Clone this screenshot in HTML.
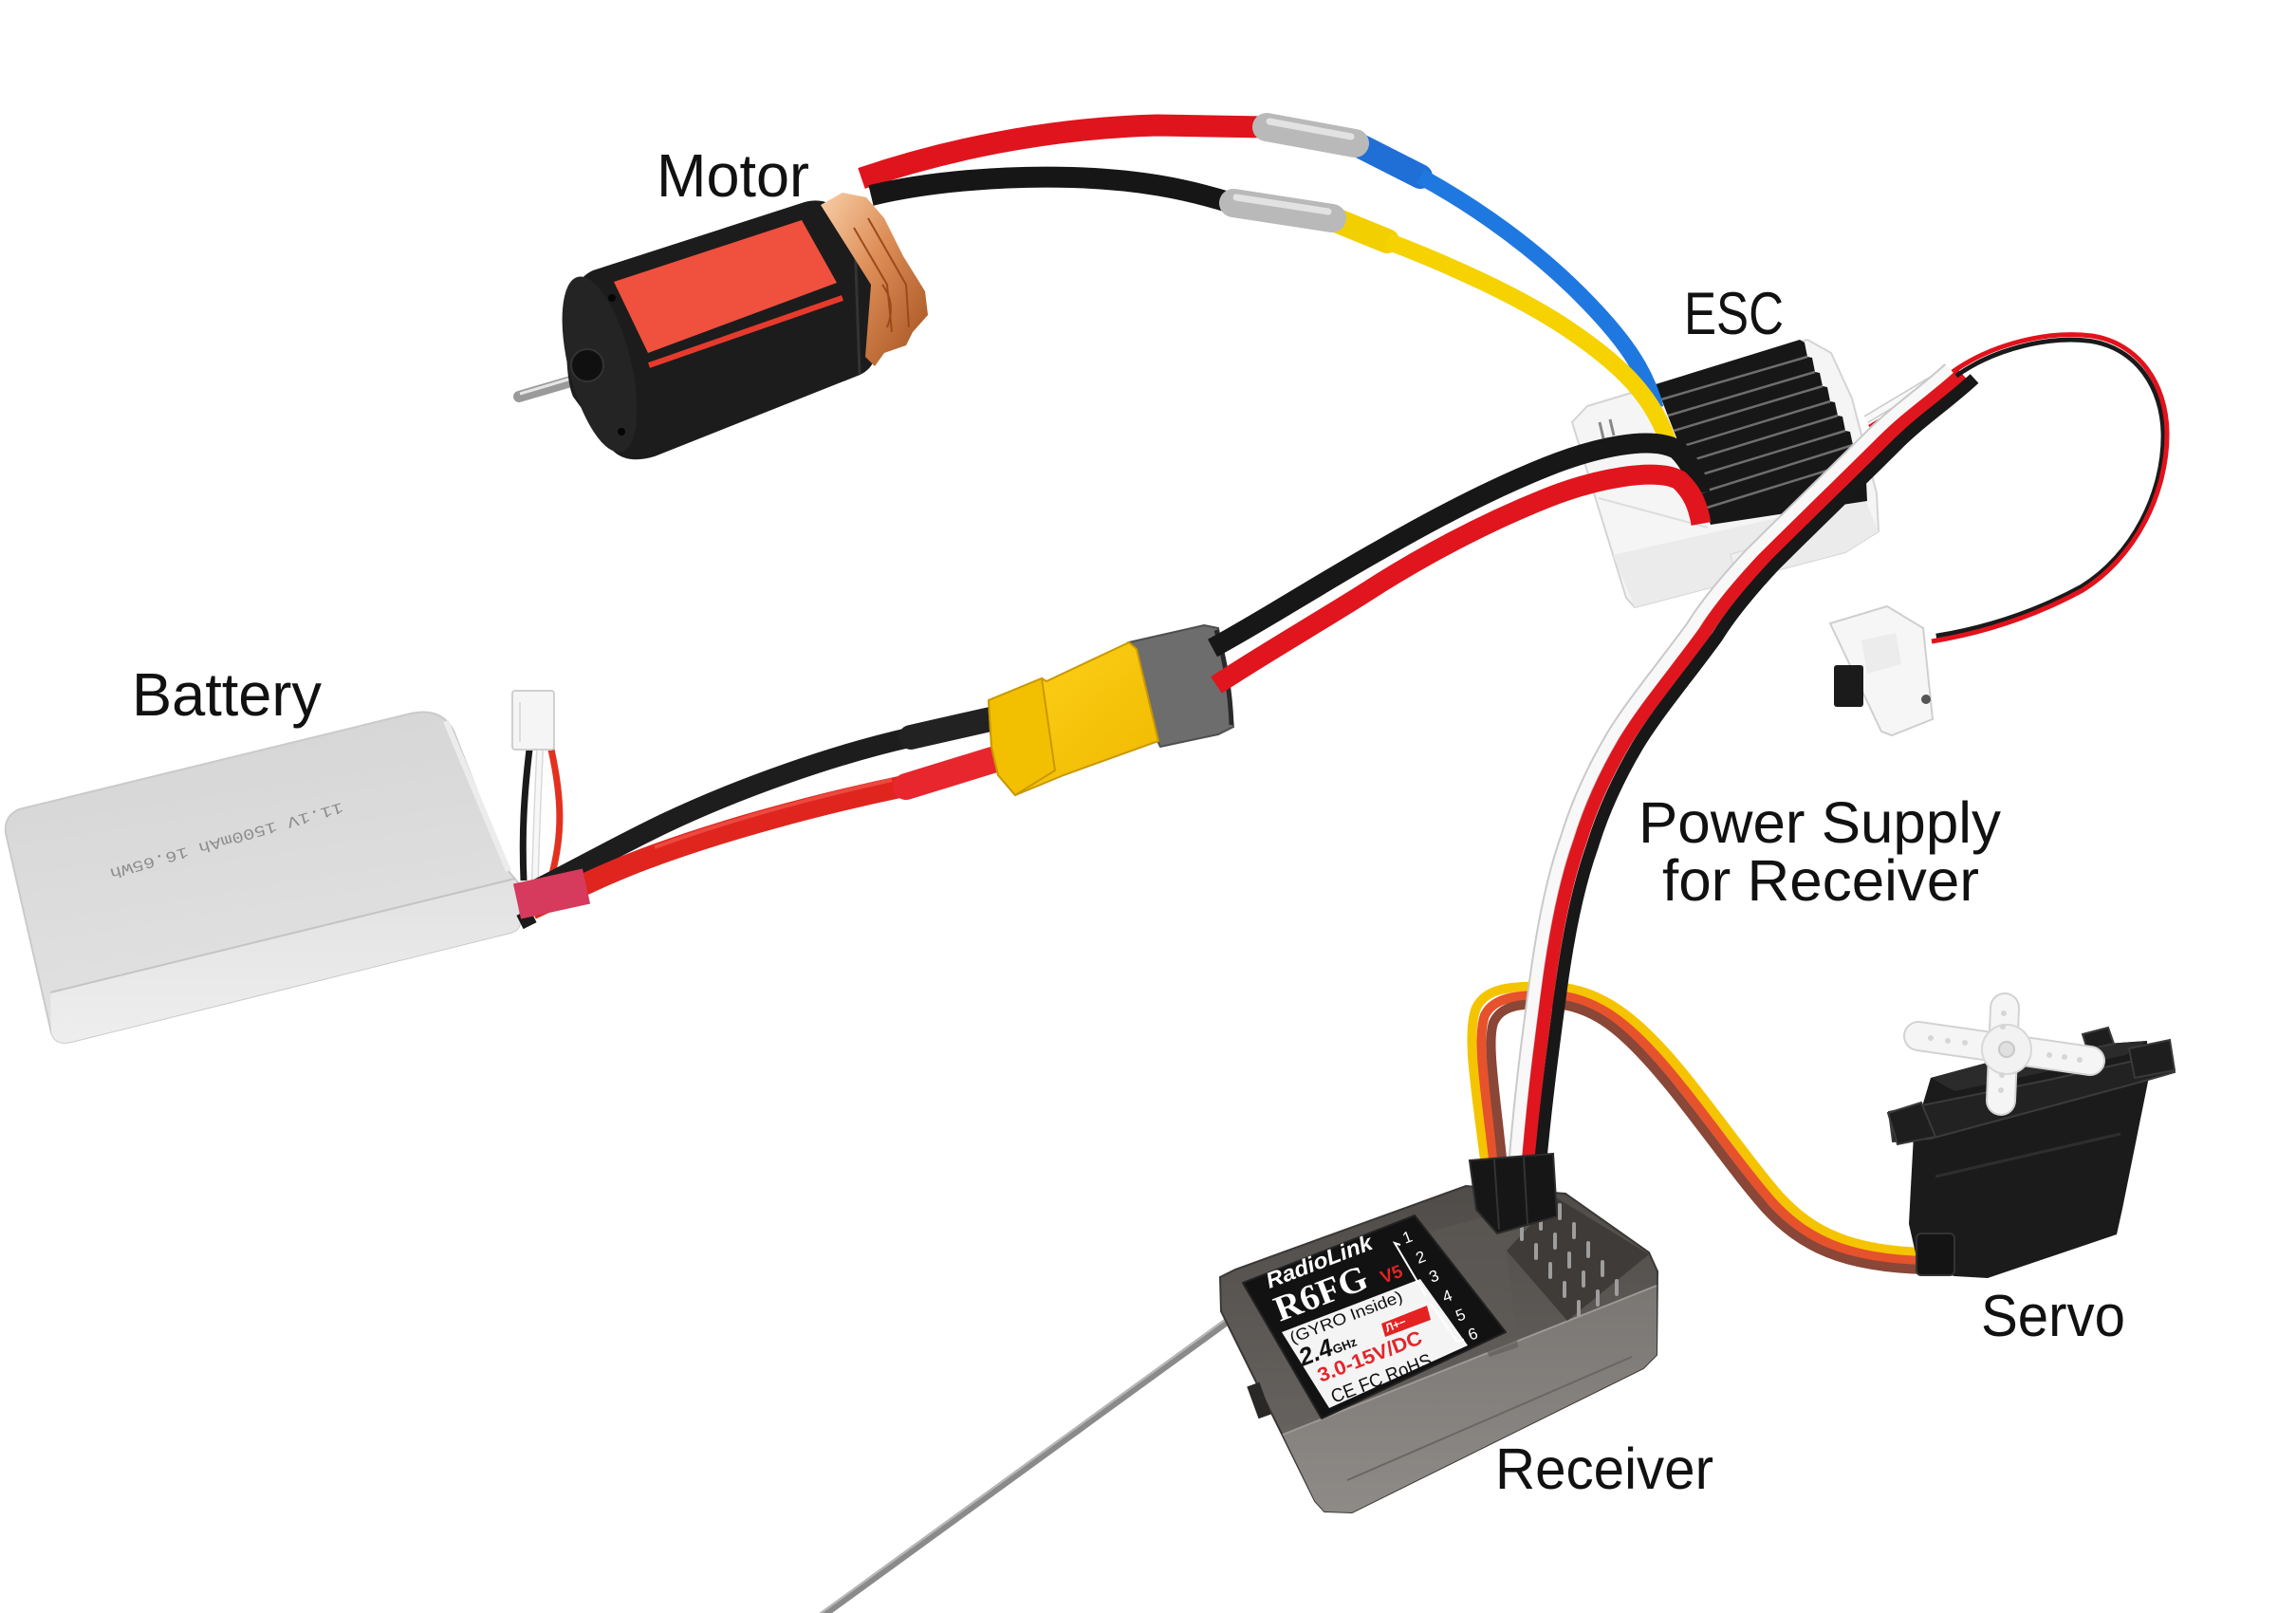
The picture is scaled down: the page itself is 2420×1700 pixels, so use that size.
<!DOCTYPE html>
<html><head><meta charset="utf-8"><style>
html,body{margin:0;padding:0;background:#fff;}
svg{display:block;}
text{font-family:"Liberation Sans",Arial,sans-serif;}
</style></head><body>
<svg width="2420" height="1700" viewBox="0 0 2420 1700" xmlns="http://www.w3.org/2000/svg">
<defs>
<linearGradient id="cop" x1="0" y1="0" x2="1" y2="1"><stop offset="0" stop-color="#f8cfa8"/><stop offset="0.45" stop-color="#dc8c55"/><stop offset="1" stop-color="#a3501e"/></linearGradient>
<linearGradient id="bat" x1="0" y1="0" x2="0.25" y2="1"><stop offset="0" stop-color="#d4d4d4"/><stop offset="1" stop-color="#e2e2e2"/></linearGradient>
<linearGradient id="batf" x1="0" y1="0" x2="0" y2="1"><stop offset="0" stop-color="#e2e2e2"/><stop offset="1" stop-color="#eeeeee"/></linearGradient>
<linearGradient id="rx" x1="0" y1="0" x2="0" y2="1"><stop offset="0" stop-color="#4f4c49"/><stop offset="1" stop-color="#6d6966"/></linearGradient>
<linearGradient id="rxf" x1="0" y1="0" x2="0" y2="1"><stop offset="0" stop-color="#7a7673"/><stop offset="1" stop-color="#8e8a87"/></linearGradient>
<linearGradient id="xt" x1="0" y1="0" x2="1" y2="1"><stop offset="0" stop-color="#ffd21a"/><stop offset="1" stop-color="#efb800"/></linearGradient>
</defs>
<rect width="2420" height="1700" fill="#fff"/>

<!-- Antenna -->
<line x1="1300" y1="1388" x2="862" y2="1706" stroke="#8a8a8a" stroke-width="8" stroke-linecap="round"/>
<line x1="1298" y1="1386" x2="860" y2="1704" stroke="#b8b8b8" stroke-width="2"/>

<!-- Battery -->
<path d="M20,853 L433,752 Q465,745 478,770 L536,918 L546,930 L548,972 Q548,980 538,983 L75,1098 Q58,1102 54,1088 L6,878 Q4,860 20,853 Z" fill="url(#bat)" stroke="#cacaca" stroke-width="2"/>
<path d="M53,1046 L543,926 L548,972 Q548,980 538,983 L75,1098 Q58,1102 54,1088 Z" fill="url(#batf)"/>
<line x1="53" y1="1046" x2="543" y2="926" stroke="#c4c4c4" stroke-width="2"/>
<path d="M470,760 L536,918" stroke="#ececec" stroke-width="6" fill="none"/>
<text transform="translate(360,846) rotate(164)" font-size="16" fill="#8d8d8d" textLength="255" lengthAdjust="spacingAndGlyphs" style="font-family:'Liberation Mono',monospace">11.1V 1500mAh 16.65Wh</text>

<!-- Balance lead -->
<path d="M558,790 C552,840 550,880 552,928" stroke="#1a1a1a" stroke-width="7" fill="none"/>
<path d="M569,790 C567,840 565,880 564,928" stroke="#d9d9d9" stroke-width="8" fill="none"/>
<path d="M569,790 C567,840 565,880 564,928" stroke="#f7f7f7" stroke-width="5" fill="none"/>
<path d="M581,790 C592,840 594,880 580,928" stroke="#e2321f" stroke-width="7" fill="none"/>
<rect x="540" y="728" width="44" height="62" rx="3" fill="#f5f5f5" stroke="#cfcfcf" stroke-width="2"/>
<line x1="548" y1="740" x2="548" y2="782" stroke="#dedede" stroke-width="2"/>

<!-- Battery-side wires -->
<path d="M960,777 C880,795 780,830 700,868 C650,892 610,915 560,940" stroke="#1d1d1d" stroke-width="21" fill="none"/>
<path d="M955,828 C860,848 760,875 680,905 C640,920 610,935 560,958" stroke="#e0251f" stroke-width="23" fill="none"/>
<path d="M940,822 C850,842 760,867 690,893" stroke="#f2584c" stroke-width="4" fill="none" opacity="0.7"/>
<line x1="960" y1="777" x2="1044" y2="758" stroke="#222" stroke-width="26" stroke-linecap="round"/>
<line x1="955" y1="829" x2="1046" y2="801" stroke="#e8262e" stroke-width="28" stroke-linecap="round"/>
<path d="M548,972 L562,965" stroke="#1a1a1a" stroke-width="16"/>
<line x1="545" y1="950" x2="618" y2="934" stroke="#d63a5c" stroke-width="38"/>

<!-- XT60 -->
<path d="M1190,677 L1203,674 L1269,659 L1284,662 L1300,766 L1284,774 L1223,787 L1213,766 L1198,684 Z" fill="#6d6d6d" stroke="#4f4f4f" stroke-width="2"/>
<path d="M1282,664 Q1296,712 1298,764" stroke="#2a2a2a" stroke-width="5" fill="none"/>
<path d="M1042,738 L1098,715 L1103,718 L1190,677 L1198,684 L1221,781 L1121,817 L1070,838 L1052,817 L1045,787 Z" fill="url(#xt)" stroke="#c99800" stroke-width="2"/>
<path d="M1042,738 L1098,715 L1112,812 L1070,838 L1052,817 L1045,787 Z" fill="#f2c000" stroke="#c99800" stroke-width="2"/>

<!-- ESC case -->
<path d="M1673,428 L1713,416 L1905,358 L1930,372 L1952,420 L1978,520 L1980,560 L1945,582 L1723,640 L1714,630 L1657,445 Z" fill="#f5f5f5" stroke="#d4d4d4" stroke-width="2"/>
<path d="M1700,585 L1965,525 L1980,560 L1945,582 L1723,640 Z" fill="#ebebeb"/>
<line x1="1685" y1="525" x2="1800" y2="556" stroke="#dddddd" stroke-width="2"/>
<line x1="1686" y1="445" x2="1690" y2="462" stroke="#888" stroke-width="3"/>
<line x1="1697" y1="442" x2="1701" y2="459" stroke="#888" stroke-width="3"/>
<rect x="1826" y="580" width="28" height="20" fill="#f0f0f0" stroke="#d6d6d6" transform="rotate(-16 1840 590)"/>

<!-- Heatsink -->
<path d="M1745,405 L1897,358 L1902,361 L1905,376 L1910,377 L1913,392 L1918,393 L1921,407 L1926,408 L1929,423 L1934,424 L1937,438 L1942,439 L1945,454 L1950,455 L1953,469 L1958,470 L1961,485 L1966,487 L1968,528 L1803,553 Z" fill="#171717"/>
<g stroke="#6e6e6e" stroke-width="2.5">
<line x1="1751" y1="421" x2="1905" y2="376"/>
<line x1="1758" y1="438" x2="1913" y2="392"/>
<line x1="1764" y1="454" x2="1921" y2="407"/>
<line x1="1771" y1="471" x2="1929" y2="423"/>
<line x1="1777" y1="487" x2="1937" y2="438"/>
<line x1="1784" y1="503" x2="1945" y2="454"/>
<line x1="1790" y1="520" x2="1953" y2="469"/>
<line x1="1796" y1="536" x2="1961" y2="485"/>
</g>

<!-- Motor -->
<line x1="547" y1="418" x2="612" y2="399" stroke="#9a9a9a" stroke-width="12" stroke-linecap="round"/>
<line x1="548" y1="415" x2="612" y2="396" stroke="#e6e6e6" stroke-width="3"/>
<path d="M625,285 L848,213 Q872,207 885,224 L924,296 L924,372 Q920,390 904,396 L690,481 Q660,490 645,474 L604,418 Q596,400 597,345 Q600,296 625,285 Z" fill="#1c1c1c"/>
<ellipse cx="632" cy="384" rx="33" ry="95" transform="rotate(-14 632 384)" fill="#242424"/>
<circle cx="619" cy="385" r="17" fill="#101010" stroke="#333" stroke-width="2"/>
<circle cx="645" cy="314" r="4" fill="#050505"/>
<circle cx="655" cy="455" r="4" fill="#050505"/>
<path d="M647,297 L845,232 L882,298 L683,372 Z" fill="#f0503e"/>
<line x1="684" y1="385" x2="888" y2="314" stroke="#e63a2c" stroke-width="6"/>
<line x1="900" y1="220" x2="906" y2="394" stroke="#333" stroke-width="3"/>
<path d="M865,216 L888,203 L913,208 L932,230 L952,270 L975,307 L978,332 L962,350 L955,364 L932,372 L922,386 L912,376 L918,300 Z" fill="url(#cop)"/>
<g stroke="#9c4a1c" stroke-width="2" fill="none">
<path d="M900,240 L935,300 L940,350"/>
<path d="M915,230 L955,300 L958,345"/>
<path d="M930,300 Q945,320 935,345"/>
</g>

<!-- Motor wires -->
<path d="M908,188 C990,160 1100,135 1220,132 L1335,134" stroke="#e0141d" stroke-width="23" fill="none"/>
<path d="M918,206 C980,191 1060,185 1130,187 C1200,189 1250,199 1298,214" stroke="#161616" stroke-width="22" fill="none"/>
<line x1="1430" y1="152" x2="1497" y2="186" stroke="#1f6fd6" stroke-width="26" stroke-linecap="round"/>
<line x1="1408" y1="232" x2="1462" y2="254" stroke="#f2cf00" stroke-width="26" stroke-linecap="round"/>
<path d="M1497,186 C1560,220 1620,265 1665,310 C1710,355 1735,390 1745,430" stroke="#1f78e0" stroke-width="17" fill="none"/>
<path d="M1462,254 C1530,280 1600,312 1650,345 C1710,385 1745,420 1760,472" stroke="#f6d200" stroke-width="18" fill="none"/>
<line x1="1335" y1="134" x2="1428" y2="151" stroke="#b9b9b9" stroke-width="30" stroke-linecap="round"/>
<line x1="1338" y1="128" x2="1424" y2="144" stroke="#e2e2e2" stroke-width="7" stroke-linecap="round"/>
<line x1="1300" y1="214" x2="1404" y2="230" stroke="#b9b9b9" stroke-width="30" stroke-linecap="round"/>
<line x1="1303" y1="208" x2="1400" y2="223" stroke="#e2e2e2" stroke-width="7" stroke-linecap="round"/>

<!-- ESC battery wires -->
<path d="M1278,683 C1330,655 1400,610 1454,580 C1520,542 1580,512 1630,492 C1680,472 1740,458 1768,474 C1782,488 1788,503 1792,520" stroke="#171717" stroke-width="21" fill="none"/>
<path d="M1282,722 C1330,690 1400,650 1454,615 C1520,574 1580,545 1630,525 C1680,505 1745,492 1770,506 C1785,520 1790,535 1793,552" stroke="#e0151d" stroke-width="21" fill="none"/>

<!-- Servo cable -->
<path d="M1566,1230 C1556,1150 1545,1090 1556,1062 C1566,1042 1590,1038 1640,1040 C1690,1044 1725,1075 1758,1112 C1800,1160 1840,1220 1875,1260 C1910,1298 1950,1318 2030,1320" stroke="#f5c400" stroke-width="10" fill="none"/>
<path d="M1575,1230 C1566,1150 1556,1095 1565,1070 C1574,1052 1595,1048 1640,1049 C1686,1053 1718,1082 1750,1118 C1792,1166 1832,1226 1868,1267 C1904,1306 1946,1327 2030,1329" stroke="#e6522c" stroke-width="10" fill="none"/>
<path d="M1584,1230 C1576,1150 1567,1100 1574,1078 C1582,1060 1600,1057 1640,1058 C1682,1062 1711,1089 1742,1124 C1784,1172 1824,1232 1861,1274 C1898,1314 1942,1336 2030,1338" stroke="#8a4636" stroke-width="10" fill="none"/>

<!-- Receiver -->
<path d="M1286,1346 L1302,1338 L1545,1250 L1650,1258 L1738,1320 L1747,1340 L1746,1428 L1732,1442 L1425,1594 L1396,1593 L1386,1582 L1287,1382 Z" fill="url(#rx)" stroke="#3a3836" stroke-width="2"/>
<path d="M1352,1512 L1746,1355 L1746,1428 L1732,1442 L1425,1594 L1396,1593 L1386,1582 Z" fill="url(#rxf)"/>
<line x1="1352" y1="1512" x2="1746" y2="1355" stroke="#9d9997" stroke-width="2"/>
<line x1="1420" y1="1560" x2="1720" y2="1430" stroke="#6a6664" stroke-width="2"/>
<rect x="1320" y="1458" width="14" height="36" fill="#2a2826" transform="rotate(-20 1327 1476)"/>
<path d="M1640,1262 L1738,1322 L1652,1392 L1588,1318 Z" fill="#3e3b39"/>
<path d="M1500,1300 L1640,1262 L1588,1318 L1600,1420 L1570,1430 Z" fill="#5d5a57" opacity="0.6"/>
<!-- label -->
<path d="M1310,1352 L1491,1281 L1587,1404 L1393,1495 Z" fill="#121212" stroke="#222" stroke-width="2" stroke-linejoin="round"/>
<path d="M1351,1404 L1497,1348 L1547,1418 L1401,1484 Z" fill="#f4f4f4"/>
<text transform="translate(1338,1358) rotate(-21)" font-size="23" font-weight="bold" font-style="italic" fill="#fff" textLength="118" lengthAdjust="spacingAndGlyphs">RadioLink</text>
<text transform="translate(1349,1393) rotate(-21)" font-size="38" font-weight="bold" fill="#fff" textLength="102" lengthAdjust="spacingAndGlyphs" style="font-family:'Liberation Serif',serif">R6FG</text>
<text transform="translate(1458,1353) rotate(-21)" font-size="19" font-weight="bold" fill="#e52222">V5</text>
<text transform="translate(1362,1416) rotate(-21)" font-size="17" fill="#111" textLength="126" lengthAdjust="spacingAndGlyphs">(GYRO Inside)</text>
<path d="M1456,1395 L1504,1376 L1508,1391 L1460,1409 Z" fill="#e52222"/>
<text transform="translate(1462,1404) rotate(-21)" font-size="12" font-weight="bold" fill="#fff">Л+−</text>
<text transform="translate(1373,1440) rotate(-21)" font-size="26" font-weight="bold" font-style="italic" fill="#111">2.4<tspan font-size="13" font-style="normal">GHz</tspan></text>
<text transform="translate(1392,1457) rotate(-21)" font-size="21" font-weight="bold" fill="#e3262b" textLength="116" lengthAdjust="spacingAndGlyphs">3.0-15V/DC</text>
<text transform="translate(1406,1479) rotate(-21)" font-size="20" fill="#111" textLength="112" lengthAdjust="spacingAndGlyphs">CE FC RoHS</text>
<g fill="#fff" font-size="17">
<text transform="translate(1481,1311) rotate(-21)">1</text>
<text transform="translate(1495,1332) rotate(-21)">2</text>
<text transform="translate(1509,1352) rotate(-21)">3</text>
<text transform="translate(1523,1373) rotate(-21)">4</text>
<text transform="translate(1537,1393) rotate(-21)">5</text>
<text transform="translate(1550,1413) rotate(-21)">6</text>
</g>
<polyline points="1476,1312 1470,1310 1503,1366" stroke="#fff" stroke-width="2" fill="none"/>
<polyline points="1508,1374 1536,1414 1543,1412" stroke="#fff" stroke-width="2" fill="none"/>
<!-- pins -->
<g stroke-linecap="round">
<g stroke="#9d9d9d" stroke-width="4">
<line x1="1604" y1="1306" x2="1604" y2="1292"/><line x1="1624" y1="1295" x2="1624" y2="1281"/><line x1="1644" y1="1284" x2="1644" y2="1270"/>
<line x1="1619" y1="1326" x2="1619" y2="1312"/><line x1="1639" y1="1315" x2="1639" y2="1301"/><line x1="1659" y1="1304" x2="1659" y2="1290"/>
<line x1="1634" y1="1346" x2="1634" y2="1332"/><line x1="1654" y1="1335" x2="1654" y2="1321"/><line x1="1674" y1="1324" x2="1674" y2="1310"/>
<line x1="1649" y1="1366" x2="1649" y2="1352"/><line x1="1669" y1="1355" x2="1669" y2="1341"/><line x1="1689" y1="1344" x2="1689" y2="1330"/>
<line x1="1664" y1="1386" x2="1664" y2="1372"/><line x1="1684" y1="1375" x2="1684" y2="1361"/><line x1="1704" y1="1364" x2="1704" y2="1350"/>
</g>
</g>

<!-- Thin exit wires from ESC to bend -->
<line x1="1975" y1="460" x2="2062" y2="406" stroke="#181818" stroke-width="7"/>
<line x1="1971" y1="451" x2="2058" y2="398" stroke="#e0161e" stroke-width="7"/>
<line x1="1967" y1="442" x2="2054" y2="390" stroke="#c9c9c9" stroke-width="9"/>
<line x1="1967" y1="442" x2="2054" y2="390" stroke="#f8f8f8" stroke-width="6"/>

<!-- Ribbon (white/red/black) descending -->
<g fill="none">
<path transform="translate(-13,-5)" d="M2068,394 C2040,420 2013,437 1985,465 C1950,500 1900,548 1858,590 C1830,620 1810,645 1797,666 C1765,710 1735,745 1713,781 C1690,820 1675,855 1665,888 C1650,930 1640,980 1632,1040 C1624,1100 1616,1160 1610,1236" stroke="#c9c9c9" stroke-width="16"/>
<path transform="translate(-13,-5)" d="M2068,394 C2040,420 2013,437 1985,465 C1950,500 1900,548 1858,590 C1830,620 1810,645 1797,666 C1765,710 1735,745 1713,781 C1690,820 1675,855 1665,888 C1650,930 1640,980 1632,1040 C1624,1100 1616,1160 1610,1236" stroke="#f8f8f8" stroke-width="12"/>
<path d="M2068,394 C2040,420 2013,437 1985,465 C1950,500 1900,548 1858,590 C1830,620 1810,645 1797,666 C1765,710 1735,745 1713,781 C1690,820 1675,855 1665,888 C1650,930 1640,980 1632,1040 C1624,1100 1616,1160 1610,1236" stroke="#e0161e" stroke-width="14"/>
<path transform="translate(13,5)" d="M2068,394 C2040,420 2013,437 1985,465 C1950,500 1900,548 1858,590 C1830,620 1810,645 1797,666 C1765,710 1735,745 1713,781 C1690,820 1675,855 1665,888 C1650,930 1640,980 1632,1040 C1624,1100 1616,1160 1610,1228" stroke="#181818" stroke-width="13"/>
</g>

<!-- Header -->
<path d="M1549,1223 L1637,1216 L1641,1282 L1578,1300 L1556,1275 Z" fill="#161616" stroke="#2c2c2c" stroke-width="2"/>
<line x1="1575" y1="1222" x2="1580" y2="1296" stroke="#333" stroke-width="2"/>
<line x1="1606" y1="1220" x2="1610" y2="1290" stroke="#333" stroke-width="2"/>

<!-- Switch wires -->
<path d="M2058,392 C2100,362 2160,348 2205,354 C2255,362 2283,405 2284,455 C2285,520 2250,588 2195,622 C2140,652 2085,668 2036,676" stroke="#1a1a1a" stroke-width="5" fill="none" transform="translate(2170,510) scale(0.965) translate(-2170,-510)"/>
<path d="M2058,392 C2100,362 2160,348 2205,354 C2255,362 2283,405 2284,455 C2285,520 2250,588 2195,622 C2140,652 2085,668 2036,676" stroke="#e2121c" stroke-width="5" fill="none"/>
<!-- Switch -->
<path d="M1929,657 L1989,639 L2027,662 L2037,758 L1994,775 L1983,771 Z" fill="#f6f6f6" stroke="#cfcfcf" stroke-width="2"/>
<path d="M1962,675 L1998,667 L2004,700 L1968,710 Z" fill="#ececec"/>
<rect x="1933" y="701" width="31" height="44" rx="3" fill="#1b1b1b"/>
<circle cx="2030" cy="737" r="5" fill="#555"/>

<!-- Servo -->
<path d="M2035,1136 L2150,1105 L2263,1097 L2265,1135 L2237,1274 L2231,1301 L2095,1347 L2060,1345 L2022,1334 L2012,1290 L2014,1251 L2017,1196 Z" fill="#1b1b1b"/>
<path d="M2035,1136 L2150,1105 L2263,1097 L2240,1112 L2060,1150 Z" fill="#2b2b2b"/>
<path d="M1991,1172 L2160,1138 L2285,1110 L2292,1130 L2250,1142 L2035,1200 L1995,1203 Z" fill="#222" stroke="#3b3b3b" stroke-width="2"/>
<path d="M1990,1173 L2025,1162 L2040,1198 L2000,1206 Z" fill="#1e1e1e" stroke="#3a3a3a" stroke-width="2"/>
<path d="M2195,1090 L2222,1083 L2228,1100 L2200,1106 Z" fill="#1e1e1e" stroke="#3a3a3a" stroke-width="2"/>
<path d="M2244,1105 L2287,1096 L2292,1128 L2250,1136 Z" fill="#1e1e1e" stroke="#3a3a3a" stroke-width="2"/>
<line x1="2040" y1="1240" x2="2235" y2="1195" stroke="#2e2e2e" stroke-width="3"/>
<rect x="2020" y="1300" width="40" height="44" rx="5" fill="#141414" stroke="#333" stroke-width="2"/>
<!-- horn -->
<g stroke-linecap="round">
<line x1="2022" y1="1092" x2="2203" y2="1118" stroke="#d2d2d2" stroke-width="32"/>
<line x1="2113" y1="1062" x2="2109" y2="1160" stroke="#d2d2d2" stroke-width="32"/>
<line x1="2022" y1="1092" x2="2203" y2="1118" stroke="#f5f5f5" stroke-width="28"/>
<line x1="2113" y1="1062" x2="2109" y2="1160" stroke="#f5f5f5" stroke-width="28"/>
</g>
<circle cx="2115" cy="1106" r="26" fill="#f2f2f2" stroke="#d8d8d8" stroke-width="2"/>
<circle cx="2115" cy="1106" r="8" fill="#e0e0e0" stroke="#c8c8c8" stroke-width="2"/>
<g fill="#d6d6d6">
<circle cx="2035" cy="1094" r="3"/><circle cx="2053" cy="1097" r="3"/><circle cx="2071" cy="1099" r="3"/>
<circle cx="2160" cy="1112" r="3"/><circle cx="2176" cy="1114" r="3"/><circle cx="2192" cy="1117" r="3"/>
<circle cx="2112" cy="1068" r="3"/><circle cx="2111" cy="1082" r="3"/><circle cx="2110" cy="1133" r="3"/><circle cx="2109" cy="1149" r="3"/>
</g>

<!-- Labels -->
<g fill="#111">
<text x="692" y="207" font-size="64" textLength="161" lengthAdjust="spacingAndGlyphs">Motor</text>
<text x="1775" y="352" font-size="63" textLength="105" lengthAdjust="spacingAndGlyphs">ESC</text>
<text x="139" y="754" font-size="64" textLength="200" lengthAdjust="spacingAndGlyphs">Battery</text>
<text x="1727" y="888" font-size="61" textLength="382" lengthAdjust="spacingAndGlyphs">Power Supply</text>
<text x="1752" y="949" font-size="61" textLength="334" lengthAdjust="spacingAndGlyphs">for Receiver</text>
<text x="2088" y="1408" font-size="62" textLength="152" lengthAdjust="spacingAndGlyphs">Servo</text>
<text x="1576" y="1569" font-size="61" textLength="230" lengthAdjust="spacingAndGlyphs">Receiver</text>
</g>
</svg>
</body></html>
